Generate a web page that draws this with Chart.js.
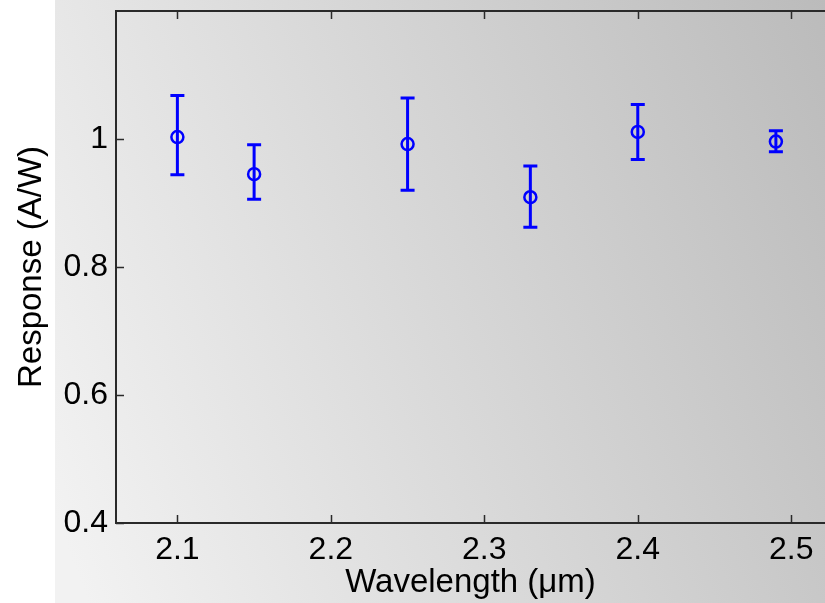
<!DOCTYPE html>
<html>
<head>
<meta charset="utf-8">
<script src="https://cdn.jsdelivr.net/npm/chart.js@4"></script>
<style>
    body { margin: 0; background: #ffffff; }
</style>
</head>
<body>
<canvas id="chart"></canvas>
<script>
var wavelength = [2.10, 2.15, 2.25, 2.33, 2.40, 2.49];
var response = [1.003, 0.945, 0.992, 0.909, 1.011, 0.996];
var errUpper = [1.068, 0.991, 1.064, 0.958, 1.054, 1.013];
var errLower = [0.944, 0.906, 0.920, 0.862, 0.968, 0.980];

var xTicks = [2.1, 2.2, 2.3, 2.4, 2.5];
var yTicks = [0.4, 0.6, 0.8, 1.0];

var tickFont = { family: '"Liberation Sans", Arial, sans-serif', size: 32 };
var titleFont = { family: '"Liberation Sans", Arial, sans-serif', size: 33 };

document.addEventListener('DOMContentLoaded', function () {

    // grey figure background, darker towards top right
    var figureBackground = {
        id: 'figureBackground',
        beforeDraw: function (chart) {
            var c = chart.ctx;
            var g = c.createLinearGradient(chart.width, 0, -20, 310);
            g.addColorStop(0, '#bbbbbb');
            g.addColorStop(1, '#f2f2f2');
            c.save();
            c.fillStyle = g;
            c.fillRect(55, 0, chart.width - 55, chart.height);
            c.restore();
        }
    };

    var errorBars = {
        id: 'errorBars',
        afterDatasetsDraw: function (chart) {
            var xs = chart.scales.x, ys = chart.scales.y, c = chart.ctx;
            c.save();
            c.strokeStyle = '#0000ff';
            c.lineWidth = 3;
            for (var i = 0; i < wavelength.length; i++) {
                var px = xs.getPixelForValue(wavelength[i]);
                var top = ys.getPixelForValue(errUpper[i]);
                var bot = ys.getPixelForValue(errLower[i]);
                c.beginPath();
                c.moveTo(px, top); c.lineTo(px, bot);
                c.moveTo(px - 7, top); c.lineTo(px + 7, top);
                c.moveTo(px - 7, bot); c.lineTo(px + 7, bot);
                c.stroke();
            }
            c.restore();
        }
    };

    // matlab style box: top line and inward tick marks
    var boxTicks = {
        id: 'boxTicks',
        afterDraw: function (chart) {
            var a = chart.chartArea, xs = chart.scales.x, ys = chart.scales.y, c = chart.ctx;
            c.save();
            c.strokeStyle = '#2a2a2a';
            c.lineWidth = 2;
            c.beginPath();
            c.moveTo(a.left - 1, a.top); c.lineTo(a.right, a.top);
            c.stroke();
            c.lineWidth = 1.5;
            c.beginPath();
            xTicks.forEach(function (v) {
                var px = Math.round(xs.getPixelForValue(v)) + 0.5;
                c.moveTo(px, a.bottom); c.lineTo(px, a.bottom - 8);
                c.moveTo(px, a.top); c.lineTo(px, a.top + 8);
            });
            yTicks.forEach(function (v) {
                var py = Math.round(ys.getPixelForValue(v)) + 0.5;
                c.moveTo(a.left, py); c.lineTo(a.left + 8, py);
            });
            c.stroke();
            c.restore();
        }
    };

    var ctx = document.getElementById('chart').getContext('2d');
    ctx.canvas.width = 825;
    ctx.canvas.height = 603;
    var chart = new Chart(ctx, {
        type: 'scatter',
        data: {
            datasets: [{
                label: 'Response',
                data: wavelength.map(function (w, i) { return { x: w, y: response[i] }; }),
                pointStyle: 'circle',
                pointRadius: 6,
                pointBorderWidth: 2.5,
                pointBackgroundColor: 'rgba(0,0,0,0)',
                pointBorderColor: '#0000ff',
                showLine: false
            }]
        },
        options: {
            responsive: false,
            animation: false,
            layout: { autoPadding: false, padding: { top: 11, right: 0, left: 0, bottom: 0 } },
            plugins: {
                legend: { display: false },
                tooltip: { enabled: false }
            },
            scales: {
                x: {
                    type: 'linear',
                    min: 2.06,
                    max: 2.522,
                    afterBuildTicks: function (axis) {
                        axis.ticks = xTicks.map(function (v) { return { value: v }; });
                    },
                    afterFit: function (axis) {
                        axis.height = 80;
                        axis.paddingLeft = 0;
                        axis.paddingRight = 0;
                    },
                    grid: { display: false, drawTicks: false },
                    border: { display: true, color: '#2a2a2a', width: 2 },
                    ticks: {
                        color: '#000000',
                        font: tickFont,
                        padding: 8,
                        maxRotation: 0,
                        callback: function (v) { return v.toFixed(1); }
                    },
                    title: {
                        display: true,
                        text: 'Wavelength (\u03bcm)',
                        color: '#000000',
                        font: titleFont,
                        padding: { top: 0, bottom: 0 }
                    }
                },
                y: {
                    type: 'linear',
                    min: 0.4,
                    max: 1.2,
                    afterBuildTicks: function (axis) {
                        axis.ticks = yTicks.map(function (v) { return { value: v }; });
                    },
                    afterFit: function (axis) {
                        axis.width = 116;
                        axis.paddingTop = 0;
                        axis.paddingBottom = 0;
                    },
                    grid: { display: false, drawTicks: false },
                    border: { display: true, color: '#2a2a2a', width: 2 },
                    ticks: {
                        color: '#000000',
                        font: tickFont,
                        padding: 8,
                        callback: function (v) { return String(+v.toFixed(1)); }
                    },
                    title: {
                        display: true,
                        text: 'Response (A/W)',
                        color: '#000000',
                        font: titleFont,
                        padding: { top: 12, bottom: 0 }
                    }
                }
            }
        },
        plugins: [figureBackground, errorBars, boxTicks]
    });

});
</script>
</body>
</html>
